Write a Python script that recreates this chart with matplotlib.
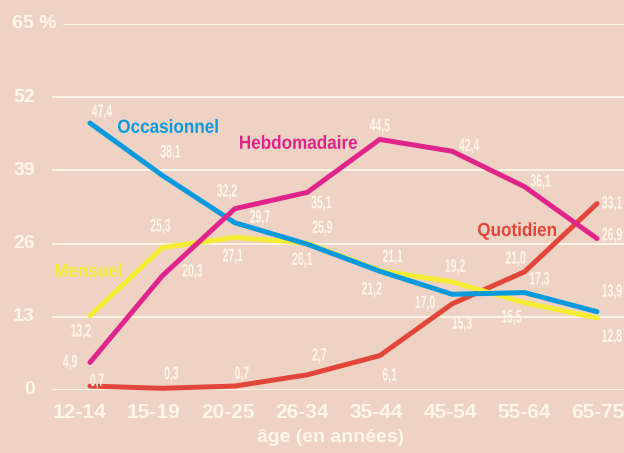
import matplotlib
matplotlib.use("Agg")
import matplotlib.pyplot as plt
from matplotlib.textpath import TextPath
from matplotlib.patches import PathPatch
from matplotlib.font_manager import FontProperties
from matplotlib.transforms import Affine2D

ages = ["12-14", "15-19", "20-25", "26-34", "35-44", "45-54", "55-64", "65-75"]
y_ticks = [0, 13, 26, 39, 52, 65]

occasionnel = [47.4, 38.1, 29.7, 25.9, 21.1, 17.0, 17.3, 13.9]
mensuel = [13.2, 25.3, 27.1, 26.1, 21.2, 19.2, 15.5, 12.8]
hebdomadaire = [4.9, 20.3, 32.2, 35.1, 44.5, 42.4, 36.1, 26.9]
quotidien = [0.7, 0.3, 0.7, 2.7, 6.1, 15.3, 21.0, 33.1]

BG = "#eed3c4"
CREAM = "#fff6e8"
WIDE = ["Liberation Sans", "DejaVu Sans"]
BOLD = FontProperties(family="Liberation Sans", weight="bold")

# label offsets in pixels (dx, dy) for each point value
off_occ = [(12, 11), (8, 23), (25, 5), (15, 16), (13, 14), (-27, -9), (15, 13), (15, 20)]
off_men = [(-9, -16), (-2, 21), (-2, -19), (-5, -17), (-8, -19), (3, 15), (-13, -15), (15, -19)]
off_heb = [(-20, 0), (30, 4), (-8, 17), (14, -11), (0, 13), (17, 5), (16, 5), (15, 3)]
off_quo = [(7, 5), (9, 14), (7, 12), (12, 19), (10, -20), (10, -20), (-9, 13), (15, 0)]

series = [
    ("Quotidien", quotidien, "#e2453a", off_quo, 2, (478, 231)),
    ("Mensuel", mensuel, "#f3ec34", off_men, 3, (55, 270)),
    ("Occasionnel", occasionnel, "#0b9bdc", off_occ, 4, (118, 126)),
    ("Hebdomadaire", hebdomadaire, "#e0258a", off_heb, 5, (240, 142)),
]

W, H = 624, 453
fig = plt.figure(figsize=(W / 100, H / 100), dpi=100, facecolor=BG)
ax = fig.add_axes([52 / W, (H - 390) / H, 572 / W, 366 / H])
ax.set_facecolor(BG)
step = 507 / 7
ax.set_xlim((52 - 90) / step, (624 - 90) / step)
ax.set_ylim(0, 65)
ax.axis("off")


def narrow_text(s, px, py, em, sx, color, align="center"):
    # condensed text: glyph outlines squeezed horizontally, placed in pixels
    tp = TextPath((0, 0), s, size=em, prop=BOLD)
    bb = tp.get_extents()
    x0 = (bb.x0 + bb.x1) / 2 if align == "center" else bb.x0
    tr = (Affine2D().translate(-x0, -(bb.y0 + bb.y1) / 2)
          .scale(sx, 1).translate(px, py))
    fig.add_artist(PathPatch(tp, transform=tr, color=color, lw=0, zorder=10))


for v in y_ticks:
    ax.axhline(v, xmin=(12 / 572 if v == 65 else 0), color=CREAM, lw=1.3, zorder=1)

x = list(range(len(ages)))
for name, vals, col, offs, z, pos in series:
    ax.plot(x, vals, color=col, lw=3.6, solid_capstyle="round",
            solid_joinstyle="round", zorder=z, clip_on=False)
    for xi, v, (dx, dy) in zip(x, vals, offs):
        px, py = ax.transData.transform((xi, v))
        narrow_text(f"{v:.1f}".replace(".", ","), px + dx, py + dy, 18, 0.58, CREAM)
    narrow_text(name, pos[0], H - pos[1], 19, 0.9, col, align="left")

# y tick labels
for v in y_ticks[:-1]:
    fig.text(35 / W, 1 - (390 - v * 366 / 65) / H, str(v), color=CREAM,
             fontsize=14, fontweight="bold", family=WIDE, ha="right", va="center")
fig.text(12 / W, 1 - 24 / H, "65 %", color=CREAM, fontsize=14,
         fontweight="bold", family=WIDE, ha="left", va="center")

# x tick labels
for i, lab in enumerate(ages):
    fig.text((80 + 74 * i) / W, 1 - 412 / H, lab, color=CREAM, fontsize=15,
             fontweight="bold", family=WIDE, ha="center", va="center")
fig.text(331 / W, 1 - 437 / H, "âge (en années)", color=CREAM, fontsize=14,
         fontweight="bold", family=WIDE, ha="center", va="center")

fig.savefig("out.png", dpi=100, facecolor=BG)
